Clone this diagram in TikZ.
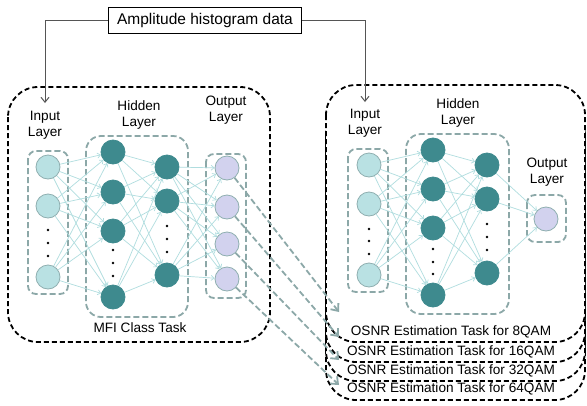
\documentclass[tikz,border=0pt]{standalone}
\usepackage{fontspec}
\setmainfont{Liberation Sans}
\usetikzlibrary{arrows.meta,calc}
\definecolor{inC}{HTML}{B9E1E3}
\definecolor{inB}{HTML}{8FAFB0}
\definecolor{hidC}{HTML}{3E8A8E}
\definecolor{outC}{HTML}{D2D2EE}
\definecolor{grp}{HTML}{8CA8A8}
\definecolor{lnk}{HTML}{B0DDDF}
\definecolor{arr}{HTML}{555555}
\begin{document}
\begin{tikzpicture}[x=1pt,y=-1pt,
 neuron/.style={circle,minimum size=24pt,inner sep=0pt,line width=0.8pt},
 inN/.style={neuron,fill=inC,draw=inB},
 hidN/.style={neuron,fill=hidC,draw=hidC},
 outN/.style={neuron,fill=outC,draw=inB},
 grpbox/.style={draw=grp,line width=1.8pt,dash pattern=on 6pt off 3pt,rounded corners=8pt},
 bigbox/.style={draw=black,fill=white,line width=1.8pt,dash pattern=on 5pt off 3pt,rounded corners=30pt},
 lab/.style={font=\fontsize{13.6}{16.5}\selectfont,align=center,inner sep=0pt},
 link/.style={draw=lnk,line width=0.7pt,-{Straight Barb[length=3pt,width=5pt]}},
 feed/.style={draw=grp,line width=1.8pt,dash pattern=on 6pt off 3pt,-{Straight Barb[length=6pt,width=10pt]}},
 inarrow/.style={draw=arr,line width=1pt,-{Straight Barb[length=5pt,width=8pt]}},
 ]
\useasboundingbox (0,0) rectangle (587,405);

% ---------- task boxes (right, stacked) ----------
\draw[bigbox] (326,143) rectangle (585,400);
\node[lab] (t64) at (451,389) {OSNR Estimation Task for 64QAM};
\draw[bigbox] (326,124) rectangle (585,381);
\node[lab] (t32) at (451,371) {OSNR Estimation Task for 32QAM};
\draw[bigbox] (326,105) rectangle (585,362);
\node[lab] (t16) at (451,352) {OSNR Estimation Task for 16QAM};
\draw[bigbox] (326,85) rectangle (585,342);
\node[lab] (t8) at (451,332) {OSNR Estimation Task for 8QAM};

% ---------- left big box ----------
\draw[bigbox] (8,87) rectangle (270,342);
\node[lab] (mfi) at (140,328) {MFI Class Task};

% ---------- amplitude box ----------
\node[draw=black,line width=0.8pt,minimum width=193pt,minimum height=26pt,inner sep=0pt,
      font=\fontsize{15.5}{18}\selectfont] (amp) at (205,20) {Amplitude histogram data};
\coordinate (tipL) at (45,103);
\coordinate (tipR) at (365,102);
\draw[inarrow] (amp.west) -| (tipL);
\draw[inarrow] (amp.east) -| (tipR);

% ---------- left network ----------
\node[lab] (LinLab) at (45,125) {Input\\Layer};
\node[lab] (LhidLab) at (139,115) {Hidden\\Layer};
\node[lab] (LoutLab) at (226,110) {Output\\Layer};

\draw[grpbox] (28,151) rectangle (68,294);
\draw[grpbox,rounded corners=15pt] (86,136) rectangle (188,317);
\draw[grpbox] (206,154) rectangle (246,298);

\node[inN] (Li1) at (48,167) {};
\node[inN] (Li2) at (48,206) {};
\node[inN] (Li3) at (48,277) {};
\node[hidN] (Lh1) at (113,152) {};
\node[hidN] (Lh2) at (113,192) {};
\node[hidN] (Lh3) at (113,231) {};
\node[hidN] (Lh4) at (113,297) {};
\node[hidN] (Lg1) at (167,167) {};
\node[hidN] (Lg2) at (167,201) {};
\node[hidN] (Lg3) at (167,275) {};
\node[outN] (Lo1) at (227,168) {};
\node[outN] (Lo2) at (227,207) {};
\node[outN] (Lo3) at (227,244) {};
\node[outN] (Lo4) at (227,279) {};

\foreach \y in {230,243,256} \fill (48,\y) circle (1.3pt);
\foreach \y in {250,263,276} \fill (113,\y) circle (1.3pt);
\foreach \y in {226,239,252} \fill (167,\y) circle (1.3pt);

\foreach \a in {Li1,Li2,Li3} \foreach \b in {Lh1,Lh2,Lh3,Lh4} \draw[link] (\a) -- (\b);
\foreach \a in {Lh1,Lh2,Lh3,Lh4} \foreach \b in {Lg1,Lg2,Lg3} \draw[link] (\a) -- (\b);
\foreach \a in {Lg1,Lg2,Lg3} \foreach \b in {Lo1,Lo2,Lo3,Lo4} \draw[link] (\a) -- (\b);

% ---------- right network ----------
\node[lab] (RinLab) at (365,123) {Input\\Layer};
\node[lab] (RhidLab) at (458,113) {Hidden\\Layer};
\node[lab] (RoutLab) at (547,172) {Output\\Layer};

\draw[grpbox] (348,149) rectangle (388,292);
\draw[grpbox,rounded corners=15pt] (406,134) rectangle (509,314);
\draw[grpbox] (527,195) rectangle (566,242);

\node[inN] (Ri1) at (369,165) {};
\node[inN] (Ri2) at (369,204) {};
\node[inN] (Ri3) at (369,275) {};
\node[hidN] (Rh1) at (433,150) {};
\node[hidN] (Rh2) at (433,189) {};
\node[hidN] (Rh3) at (433,228) {};
\node[hidN] (Rh4) at (433,295) {};
\node[hidN] (Rg1) at (487,165) {};
\node[hidN] (Rg2) at (487,199) {};
\node[hidN] (Rg3) at (487,273) {};
\node[outN] (Ro1) at (546,219) {};

\foreach \y in {229,241,254} \fill (369,\y) circle (1.3pt);
\foreach \y in {249,262,274} \fill (433,\y) circle (1.3pt);
\foreach \y in {224,237,250} \fill (487,\y) circle (1.3pt);

\foreach \a in {Ri1,Ri2,Ri3} \foreach \b in {Rh1,Rh2,Rh3,Rh4} \draw[link] (\a) -- (\b);
\foreach \a in {Rh1,Rh2,Rh3,Rh4} \foreach \b in {Rg1,Rg2,Rg3} \draw[link] (\a) -- (\b);
\foreach \a in {Rg1,Rg2,Rg3} \draw[link] (\a) -- (Ro1);

% ---------- feeds from MFI output to OSNR tasks ----------
\coordinate (f1) at (339,312);
\coordinate (f2) at (339,337);
\coordinate (f3) at (339,360);
\coordinate (f4) at (339,385);
\draw[feed] (Lo1) -- (f1);
\draw[feed] (Lo2) -- (f2);
\draw[feed] (Lo3) -- (f3);
\draw[feed] (Lo4) -- (f4);
\end{tikzpicture}
\end{document}
